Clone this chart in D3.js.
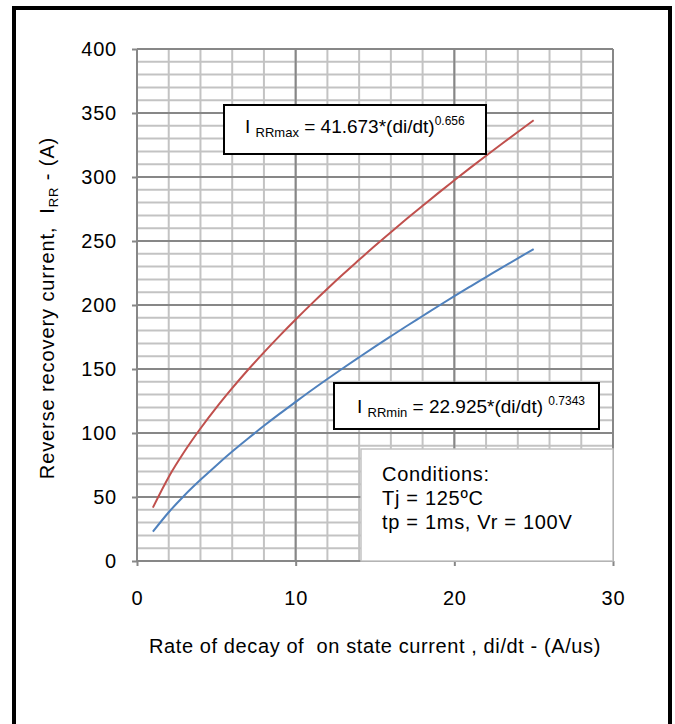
<!DOCTYPE html>
<html>
<head>
<meta charset="utf-8">
<script src="https://cdn.jsdelivr.net/npm/d3@7"></script>
<style>
    html, body { margin: 0; padding: 0; background: #fff; }
    svg { display: block; font-family: "Liberation Sans", Arial, sans-serif; }
</style>
</head>
<body>
<svg id="chart" width="675" height="724"></svg>
<script>
// di/dt points (A/us)
const didt = [1, 2, 3, 4, 5, 6, 7, 8, 9, 10, 11, 12, 13, 14, 15, 16, 17, 18, 19, 20, 21, 22, 23, 24, 25];
// IRRmax curve (red)
const irrMax = [41.7, 65.7, 85.7, 103.5, 119.8, 135.0, 149.4, 163.0, 176.1, 188.7, 200.9, 212.7, 224.2,
    235.3, 246.3, 256.9, 267.3, 277.5, 287.6, 297.4, 307.1, 316.6, 326.0, 335.2, 344.3];
// IRRmin curve (blue)
const irrMin = [22.9, 38.1, 51.4, 63.4, 74.7, 85.5, 95.7, 105.6, 115.1, 124.3, 133.4, 142.2, 150.8,
    159.2, 167.5, 175.6, 183.6, 191.4, 199.2, 206.9, 214.4, 221.8, 229.2, 236.5, 243.7];
const xTicks = [0, 10, 20, 30];
const yTicks = [0, 50, 100, 150, 200, 250, 300, 350, 400];
const conditions = ["Conditions:", "Tj = 125ºC", "tp = 1ms, Vr = 100V"];

const colors = { max: "#c0504d", min: "#4f81bd", minor: "#c3c3c3", major: "#878787" };

const svg = d3.select("#chart");

// 外框
svg.append("rect")
    .attr("x", 14).attr("y", 8)
    .attr("width", 656).attr("height", 730)
    .attr("fill", "none")
    .attr("stroke", "#000")
    .attr("stroke-width", 4);

const x = d3.scaleLinear().domain([0, 30]).range([137, 613]);
const y = d3.scaleLinear().domain([0, 400]).range([561, 49]);

// 网格线 (minor)
const grid = svg.append("g");
grid.selectAll(".vmin")
    .data(d3.range(0, 31, 2))
    .enter().append("line")
    .attr("x1", d => x(d)).attr("x2", d => x(d))
    .attr("y1", y(0)).attr("y2", y(400))
    .attr("stroke", colors.minor).attr("stroke-width", 2);
grid.selectAll(".hmin")
    .data(d3.range(0, 401, 10))
    .enter().append("line")
    .attr("x1", x(0)).attr("x2", x(30))
    .attr("y1", d => y(d)).attr("y2", d => y(d))
    .attr("stroke", colors.minor).attr("stroke-width", 2);

// 网格线 (major)
grid.selectAll(".vmaj")
    .data(xTicks)
    .enter().append("line")
    .attr("x1", d => x(d)).attr("x2", d => x(d))
    .attr("y1", y(0)).attr("y2", y(400))
    .attr("stroke", colors.major).attr("stroke-width", 2);
grid.selectAll(".hmaj")
    .data(yTicks)
    .enter().append("line")
    .attr("x1", x(0)).attr("x2", x(30))
    .attr("y1", d => y(d)).attr("y2", d => y(d))
    .attr("stroke", colors.major).attr("stroke-width", 2);

// 坐标轴
const xAxis = svg.append("g")
    .attr("transform", `translate(0,${y(0)})`)
    .call(d3.axisBottom(x).tickValues(xTicks).tickSize(5).tickPadding(25).tickFormat(d3.format("d")));
const yAxis = svg.append("g")
    .attr("transform", `translate(${x(0)},0)`)
    .call(d3.axisLeft(y).tickValues(yTicks).tickSize(5).tickPadding(15).tickFormat(d3.format("d")));

[xAxis, yAxis].forEach(a => {
    a.select(".domain").remove();
    a.selectAll("line").attr("stroke", colors.major).attr("stroke-width", 2);
    a.selectAll("text")
        .style("font-size", "20px")
        .style("letter-spacing", "0.8px")
        .style("font-family", "'Liberation Sans', Arial, sans-serif")
        .attr("fill", "#000");
});

// 曲线
const line = d3.line()
    .x(d => x(d[0]))
    .y(d => y(d[1]))
    .curve(d3.curveMonotoneX);

svg.append("path")
    .datum(didt.map((d, i) => [d, irrMin[i]]))
    .attr("d", line)
    .attr("fill", "none")
    .attr("stroke", colors.min)
    .attr("stroke-width", 2);

svg.append("path")
    .datum(didt.map((d, i) => [d, irrMax[i]]))
    .attr("d", line)
    .attr("fill", "none")
    .attr("stroke", colors.max)
    .attr("stroke-width", 2);

// 公式框
function eqBox(bx, by, bw, bh, tx, ty, sub, coef, pre, exp) {
    svg.append("rect")
        .attr("x", bx).attr("y", by)
        .attr("width", bw).attr("height", bh)
        .attr("fill", "#fff")
        .attr("stroke", "#000")
        .attr("stroke-width", 2);
    const t = svg.append("text")
        .attr("x", tx).attr("y", ty)
        .style("font-size", "19px");
    t.append("tspan").text("I ");
    t.append("tspan").attr("dy", 4).style("font-size", "13px").text(sub);
    t.append("tspan").attr("dy", -4).text(" = " + coef + "*(di/dt)" + pre);
    t.append("tspan").attr("dy", -8).style("font-size", "12px").text(exp);
}
eqBox(224, 105, 262, 49, 245, 133, "RRmax", "41.673", "", "0.656");
eqBox(334, 383, 265, 46, 357, 413, "RRmin", "22.925", " ", "0.7343");

// 条件说明
svg.append("rect")
    .attr("x", 361).attr("y", 449)
    .attr("width", 252).attr("height", 112)
    .attr("fill", "#fff")
    .attr("stroke", colors.minor)
    .attr("stroke-width", 1.5);

svg.append("g").selectAll("text")
    .data(conditions)
    .enter().append("text")
    .attr("x", 382)
    .attr("y", (d, i) => 481 + i * 24)
    .style("font-size", "20px")
    .style("letter-spacing", "0.7px")
    .text(d => d);

// 坐标轴标题
svg.append("text")
    .attr("x", 375).attr("y", 653)
    .attr("text-anchor", "middle")
    .style("font-size", "20px")
    .style("letter-spacing", "0.6px")
    .style("white-space", "pre")
    .text("Rate of decay of  on state current , di/dt - (A/us)");

const yt = svg.append("text")
    .attr("transform", "translate(54,308) rotate(-90)")
    .attr("text-anchor", "middle")
    .style("font-size", "20px")
    .style("letter-spacing", "0.9px")
    .style("white-space", "pre");
yt.append("tspan").text("Reverse recovery current,  I");
yt.append("tspan").attr("dy", 4).style("font-size", "13px").text("RR");
yt.append("tspan").attr("dy", -4).text(" - (A)");
</script>
</body>
</html>
